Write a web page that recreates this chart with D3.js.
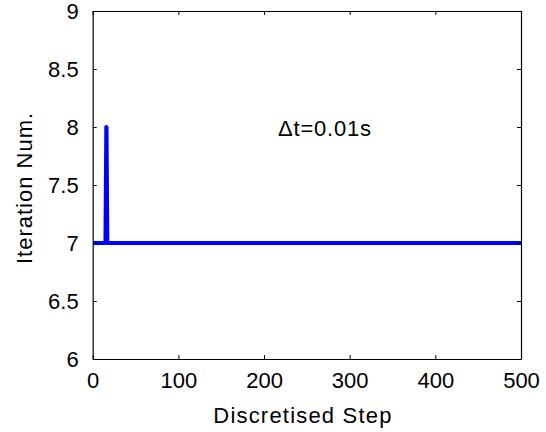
<!DOCTYPE html>
<html>
<head>
<meta charset="utf-8">
<script src="https://cdn.jsdelivr.net/npm/d3@7"></script>
<style>
  html, body { margin: 0; padding: 0; background: #fff; }
  svg { display: block; font-family: "Liberation Sans", Arial, sans-serif; }
</style>
</head>
<body>
<svg id="chart" width="546" height="432"></svg>
<script>
// Breakpoints of the series (step, iteration count); straight segments between them
const steps = [1, 15, 16, 17, 500];
const iterations = [7, 7, 8, 7, 7];
const xTicks = [0, 100, 200, 300, 400, 500];
const yTicks = [6, 6.5, 7, 7.5, 8, 8.5, 9];
const xLabel = "Discretised Step";
const yLabel = "Iteration Num.";
const note = "\u0394t=0.01s";

(function () {
const svg = d3.select("#chart");
const mLeft = 92.7, mRight = 521, mTop = 11, mBottom = 359;

const x = d3.scaleLinear().domain([0, 500]).range([mLeft, mRight]);
const y = d3.scaleLinear().domain([6, 9]).range([mBottom, mTop]);

const data = steps.map((s, i) => ({ s, v: iterations[i] }));

// line
svg.append("path")
  .datum(data)
  .attr("fill", "none")
  .attr("stroke", "#0000ff")
  .attr("stroke-width", 4.2)
  .attr("stroke-linejoin", "round")
  .attr("stroke-linecap", "butt")
  .attr("d", d3.line().x(d => x(d.s)).y(d => y(d.v)));

// axes (MATLAB box style, ticks inward on all sides)
const fmt = d => String(d);
const tickLen = 4;
const gB = svg.append("g").attr("transform", `translate(0,${mBottom})`)
  .call(d3.axisBottom(x).tickValues(xTicks).tickFormat(fmt).tickSizeInner(-tickLen).tickSizeOuter(0).tickPadding(13));
const gT = svg.append("g").attr("transform", `translate(0,${mTop})`)
  .call(d3.axisTop(x).tickValues(xTicks).tickFormat("").tickSizeInner(-tickLen).tickSizeOuter(0));
const gL = svg.append("g").attr("transform", `translate(${mLeft},0)`)
  .call(d3.axisLeft(y).tickValues(yTicks).tickFormat(fmt).tickSizeInner(-tickLen).tickSizeOuter(0).tickPadding(14));
const gR = svg.append("g").attr("transform", `translate(${mRight},0)`)
  .call(d3.axisRight(y).tickValues(yTicks).tickFormat("").tickSizeInner(-tickLen).tickSizeOuter(0));

[gB, gT, gL, gR].forEach(g => {
  g.selectAll(".domain").attr("stroke", "#000").attr("stroke-width", 1.2);
  g.selectAll(".tick line").attr("stroke", "#000").attr("stroke-width", 1);
  g.selectAll("text").attr("fill", "#000").style("font-size", "22px")
    .style("font-family", "'Liberation Sans', Arial, sans-serif");
});
gB.selectAll(".tick text").attr("dy", "0.71em");
gL.selectAll(".tick text").attr("dy", "0.35em");

// axis labels
svg.append("text")
  .attr("x", 303).attr("y", 422.5)
  .attr("text-anchor", "middle")
  .style("font-size", "22px").style("letter-spacing", "1.2px")
  .text(xLabel);

svg.append("text")
  .attr("transform", "translate(32,188) rotate(-90)")
  .attr("text-anchor", "middle")
  .style("font-size", "22px").style("letter-spacing", "1px")
  .text(yLabel);

// annotation
svg.append("text")
  .attr("x", 278).attr("y", 136)
  .style("font-size", "22px").style("letter-spacing", "0.8px")
  .text(note);
})();
</script>
</body>
</html>
